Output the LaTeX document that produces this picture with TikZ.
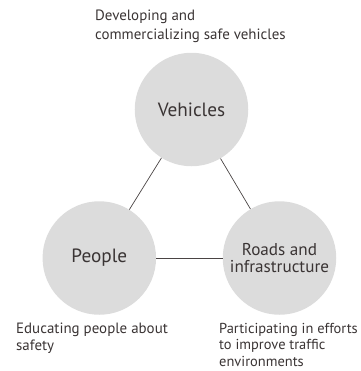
\documentclass[tikz,border=0pt]{standalone}
\usepackage{fontspec}
\setmainfont{PT Sans}
\definecolor{txt}{HTML}{3A3434}
\definecolor{fillc}{HTML}{DCDCDC}
\definecolor{linec}{HTML}{4A4444}
\begin{document}
\begin{tikzpicture}[x=1bp,y=-1bp,
  hub/.style={circle,fill=fillc,minimum size=113.5bp,inner sep=0pt,text=txt,font=\fontsize{19.3}{17.3}\selectfont,align=center},
  lab/.style={anchor=base west,text=txt,font=\fontsize{15}{17.4}\selectfont,align=left,inner sep=0pt},
  link/.style={draw=linec,line width=0.7bp}]
\useasboundingbox (0,0) rectangle (361,371);
\node[hub] (veh) at (191.5,109.5) {Vehicles};
\node[hub] (peo) at (99.3,258) {People};
\node[hub,font=\fontsize{17.2}{17.3}\selectfont] (road) at (279.5,258) {Roads and\\infrastructure};
\draw[link] (veh) -- (peo);
\draw[link] (veh) -- (road);
\draw[link] (peo) -- (road);
\node[lab,font=\fontsize{15}{18.6}\selectfont] (t1) at (95,39.3) {Developing and\\commercializing safe vehicles};
\node[lab] (t2) at (16,350.7) {Educating people about\\safety};
\node[lab,font=\fontsize{14.5}{16.8}\selectfont] (t3) at (219,366.7) {Participating in efforts\\to improve traffic\\environments};
\end{tikzpicture}
\end{document}
